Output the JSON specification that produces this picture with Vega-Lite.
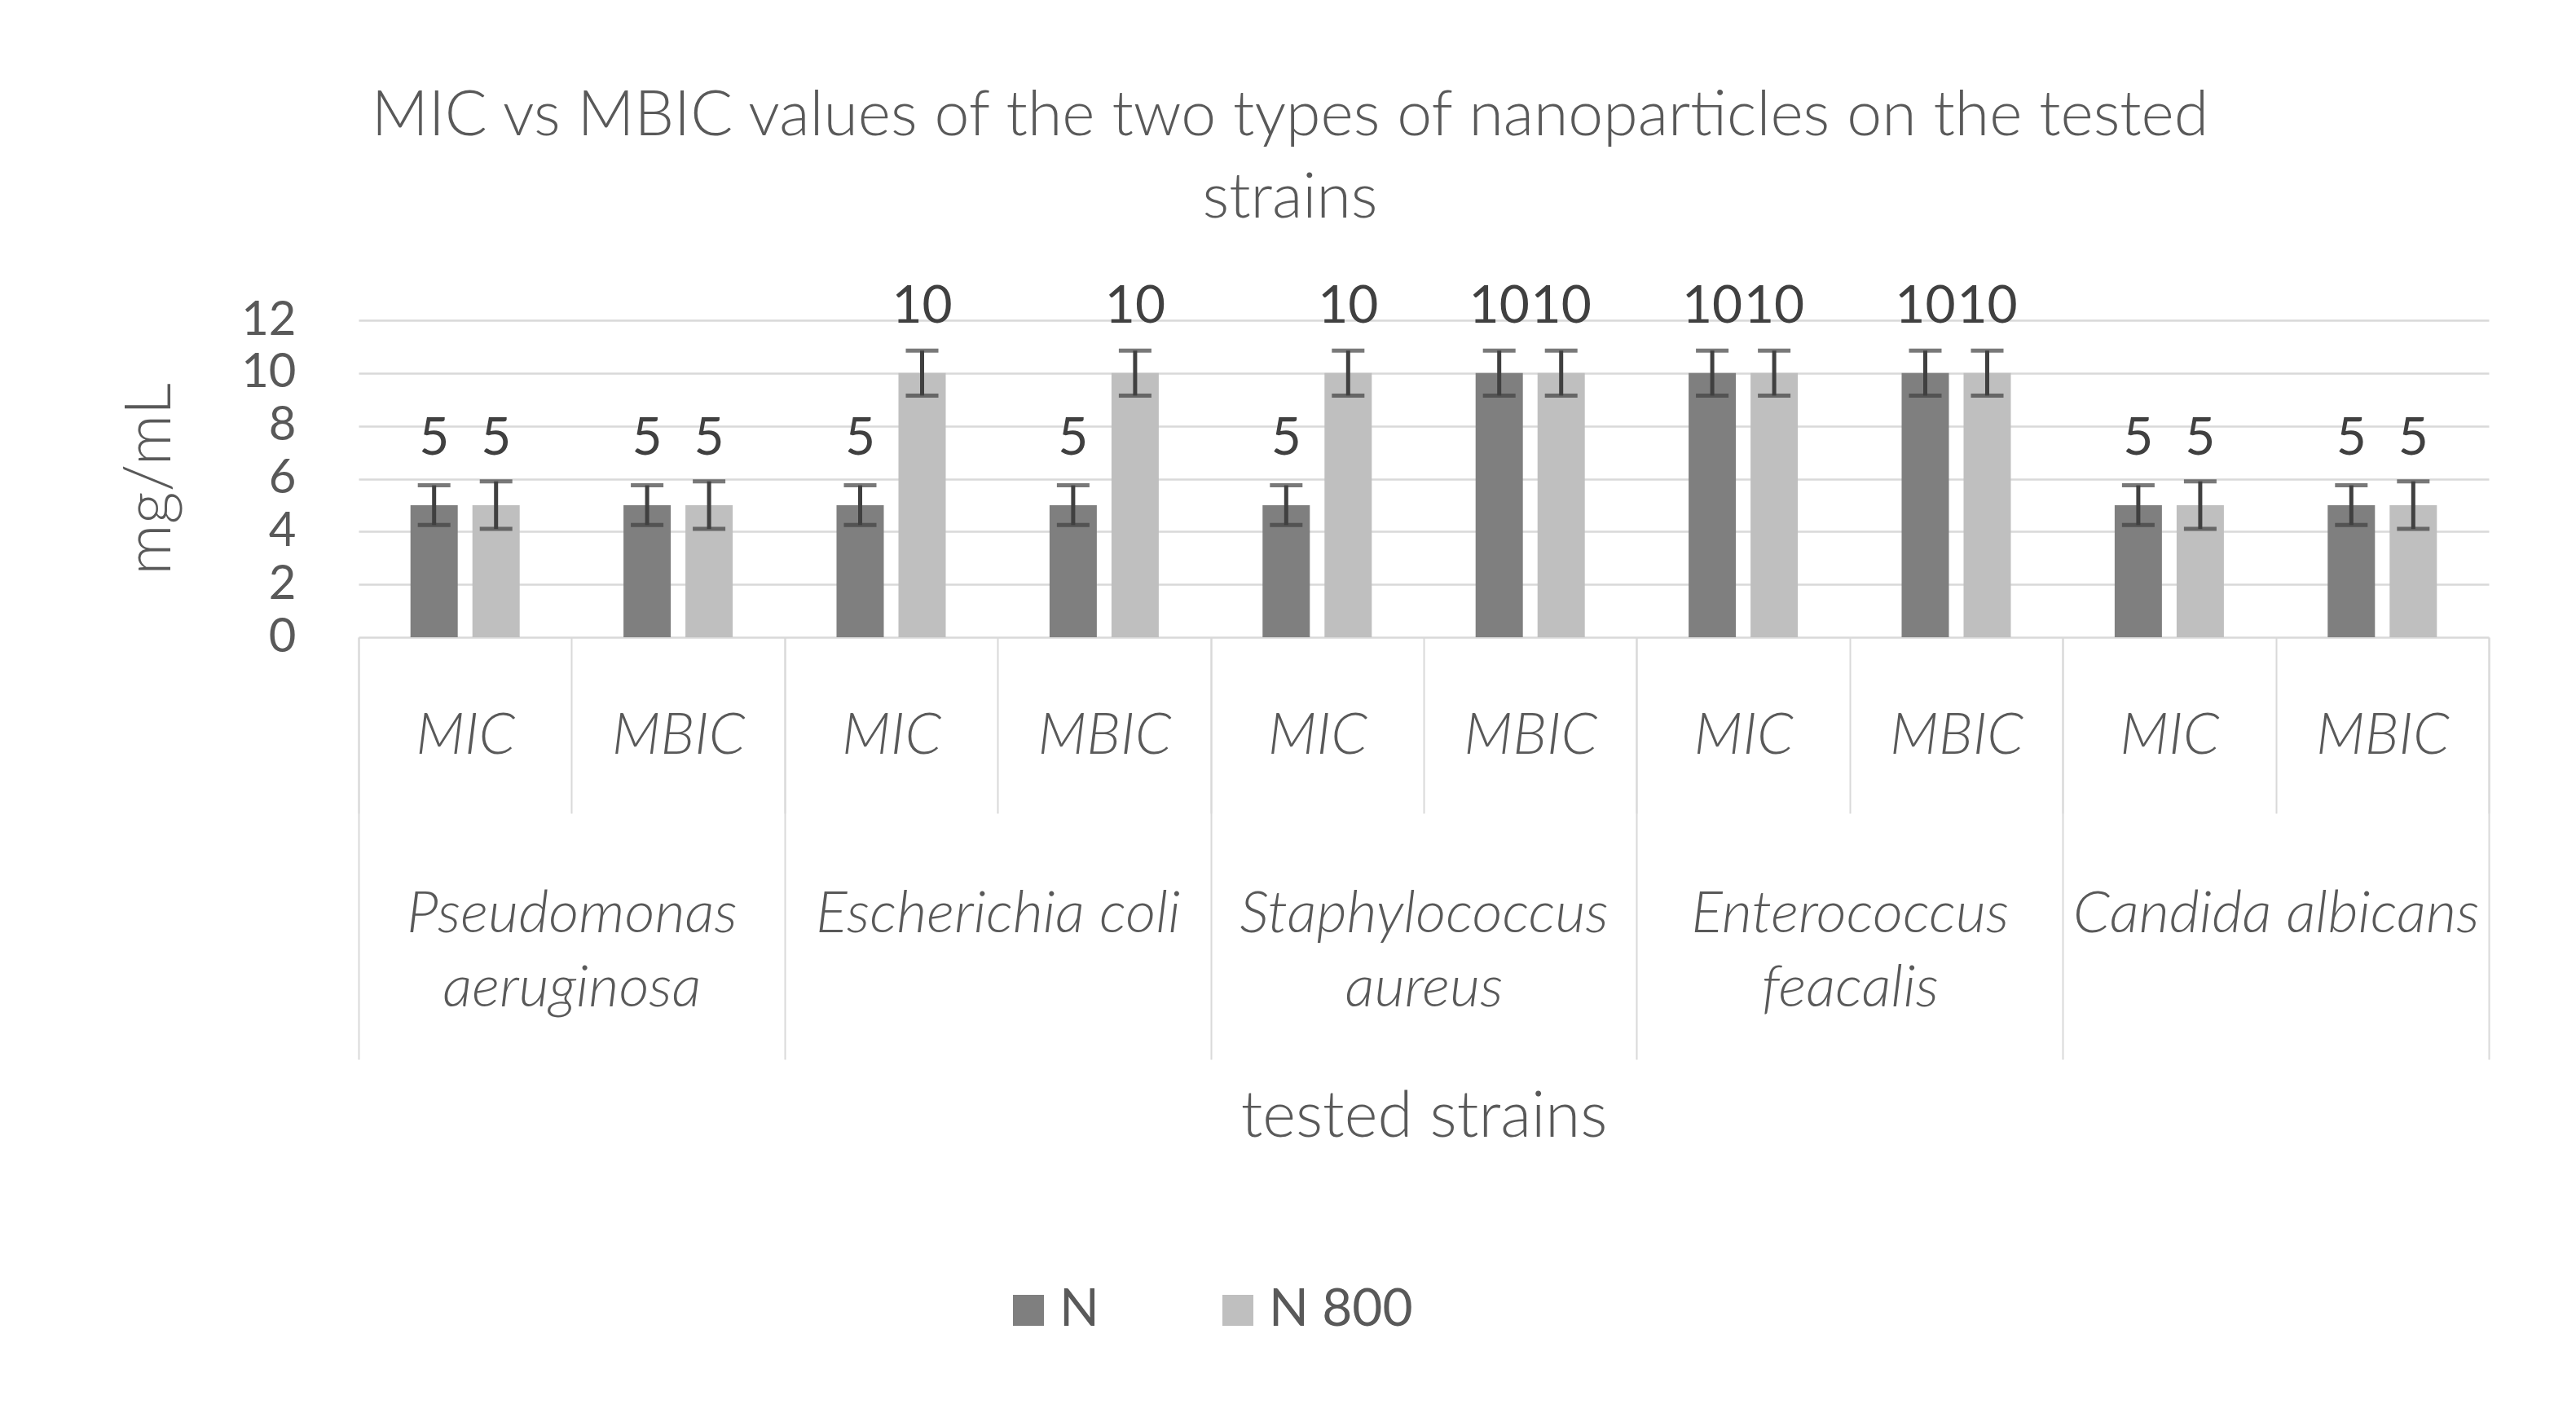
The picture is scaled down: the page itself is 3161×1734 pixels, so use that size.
{
  "$schema": "https://vega.github.io/schema/vega-lite/v6.json",
  "width": 2614,
  "height": 389,
  "autosize": {"type": "none"},
  "padding": {"left": 440, "top": 393, "right": 107, "bottom": 952},
  "background": "white",
  "config": {"font": "Lato", "view": {"stroke": null}},
  "title": {
    "text": ["MIC vs MBIC values of the two types of nanoparticles on the tested", "strains"],
    "fontSize": 77,
    "fontWeight": 300,
    "color": "#595959",
    "anchor": "middle",
    "dx": -164,
    "lineHeight": 101,
    "offset": 62
  },
  "data": {
    "values": [
      {"strain": "Pseudomonas aeruginosa", "cat": "Pseudomonas aeruginosa|MIC", "series": "N", "value": 5, "lo": 4.25, "hi": 5.75},
      {"strain": "Pseudomonas aeruginosa", "cat": "Pseudomonas aeruginosa|MIC", "series": "N 800", "value": 5, "lo": 4.1, "hi": 5.9},
      {"strain": "Pseudomonas aeruginosa", "cat": "Pseudomonas aeruginosa|MBIC", "series": "N", "value": 5, "lo": 4.25, "hi": 5.75},
      {"strain": "Pseudomonas aeruginosa", "cat": "Pseudomonas aeruginosa|MBIC", "series": "N 800", "value": 5, "lo": 4.1, "hi": 5.9},
      {"strain": "Escherichia coli", "cat": "Escherichia coli|MIC", "series": "N", "value": 5, "lo": 4.25, "hi": 5.75},
      {"strain": "Escherichia coli", "cat": "Escherichia coli|MIC", "series": "N 800", "value": 10, "lo": 9.15, "hi": 10.85},
      {"strain": "Escherichia coli", "cat": "Escherichia coli|MBIC", "series": "N", "value": 5, "lo": 4.25, "hi": 5.75},
      {"strain": "Escherichia coli", "cat": "Escherichia coli|MBIC", "series": "N 800", "value": 10, "lo": 9.15, "hi": 10.85},
      {"strain": "Staphylococcus aureus", "cat": "Staphylococcus aureus|MIC", "series": "N", "value": 5, "lo": 4.25, "hi": 5.75},
      {"strain": "Staphylococcus aureus", "cat": "Staphylococcus aureus|MIC", "series": "N 800", "value": 10, "lo": 9.15, "hi": 10.85},
      {"strain": "Staphylococcus aureus", "cat": "Staphylococcus aureus|MBIC", "series": "N", "value": 10, "lo": 9.15, "hi": 10.85},
      {"strain": "Staphylococcus aureus", "cat": "Staphylococcus aureus|MBIC", "series": "N 800", "value": 10, "lo": 9.15, "hi": 10.85},
      {"strain": "Enterococcus feacalis", "cat": "Enterococcus feacalis|MIC", "series": "N", "value": 10, "lo": 9.15, "hi": 10.85},
      {"strain": "Enterococcus feacalis", "cat": "Enterococcus feacalis|MIC", "series": "N 800", "value": 10, "lo": 9.15, "hi": 10.85},
      {"strain": "Enterococcus feacalis", "cat": "Enterococcus feacalis|MBIC", "series": "N", "value": 10, "lo": 9.15, "hi": 10.85},
      {"strain": "Enterococcus feacalis", "cat": "Enterococcus feacalis|MBIC", "series": "N 800", "value": 10, "lo": 9.15, "hi": 10.85},
      {"strain": "Candida albicans", "cat": "Candida albicans|MIC", "series": "N", "value": 5, "lo": 4.25, "hi": 5.75},
      {"strain": "Candida albicans", "cat": "Candida albicans|MIC", "series": "N 800", "value": 5, "lo": 4.1, "hi": 5.9},
      {"strain": "Candida albicans", "cat": "Candida albicans|MBIC", "series": "N", "value": 5, "lo": 4.25, "hi": 5.75},
      {"strain": "Candida albicans", "cat": "Candida albicans|MBIC", "series": "N 800", "value": 5, "lo": 4.1, "hi": 5.9}
    ]
  },
  "layer": [
    {
      "encoding": {
        "x": {
          "field": "cat",
          "type": "nominal",
          "sort": null,
          "scale": {"type": "band", "paddingInner": 0, "paddingOuter": 0},
          "axis": {
            "orient": "bottom",
            "title": null,
            "labelExpr": "split(datum.label, '|')[1]",
            "labelFontSize": 71,
            "labelFontStyle": "italic",
            "labelFontWeight": 300,
            "labelColor": "#595959",
            "labelAngle": 0,
            "labelBaseline": "middle",
            "labelPadding": -95,
            "labelLimit": 0,
            "labelOverlap": false,
            "labelBound": false,
            "tickBand": "extent",
            "tickSize": 216,
            "tickColor": "#d9d9d9",
            "tickWidth": 2,
            "domain": false,
            "grid": false
          }
        },
        "xOffset": {
          "field": "series",
          "type": "nominal",
          "sort": null,
          "scale": {"paddingInner": 0.237, "paddingOuter": 0.838}
        }
      },
      "layer": [
        {
          "mark": {"type": "bar"},
          "encoding": {
            "y": {
              "field": "value",
              "type": "quantitative",
              "scale": {"domain": [0, 12], "nice": false},
              "axis": {
                "title": "mg/mL",
                "titleFontSize": 78,
                "titleFontWeight": 300,
                "titleColor": "#595959",
                "titleX": -255,
                "titleY": 194.5,
                "titleBaseline": "middle",
                "values": [0, 2, 4, 6, 8, 10, 12],
                "labelFontSize": 58,
                "labelColor": "#595959",
                "labelPadding": 77,
                "ticks": false,
                "domain": false,
                "grid": true,
                "gridColor": "#d9d9d9",
                "gridWidth": 2.5
              }
            },
            "color": {
              "field": "series",
              "type": "nominal",
              "scale": {"domain": ["N", "N 800"], "range": ["#7f7f7f", "#bfbfbf"]},
              "legend": {
                "orient": "none",
                "legendX": 790,
                "legendY": 1183,
                "direction": "horizontal",
                "title": null,
                "symbolType": "square",
                "symbolSize": 1444,
                "symbolStrokeWidth": 0,
                "symbolOpacity": 1,
                "labelFontSize": 64,
                "labelColor": "#595959",
                "labelOffset": 6,
                "labelLimit": 0,
                "columnPadding": 138,
                "padding": 0
              }
            }
          }
        },
        {
          "mark": {"type": "rule", "color": "#404040", "strokeWidth": 5},
          "encoding": {
            "y": {"field": "lo", "type": "quantitative"},
            "y2": {"field": "hi"}
          }
        },
        {
          "mark": {"type": "tick", "color": "#404040", "size": 40, "thickness": 5, "orient": "horizontal"},
          "encoding": {
            "y": {"field": "lo", "type": "quantitative"}
          }
        },
        {
          "mark": {"type": "tick", "color": "#404040", "size": 40, "thickness": 5, "orient": "horizontal"},
          "encoding": {
            "y": {"field": "hi", "type": "quantitative"}
          }
        },
        {
          "mark": {"type": "text", "dy": -81, "baseline": "middle", "fontSize": 64, "color": "#404040"},
          "encoding": {
            "y": {"field": "value", "type": "quantitative"},
            "text": {"field": "value", "type": "quantitative", "format": "d"}
          }
        }
      ]
    },
    {
      "mark": {"type": "point", "opacity": 0},
      "encoding": {
        "x": {
          "field": "strain",
          "type": "nominal",
          "sort": null,
          "scale": {"type": "band", "paddingInner": 0, "paddingOuter": 0},
          "axis": {
            "orient": "bottom",
            "title": "tested strains",
            "titleFontSize": 78,
            "titleFontWeight": 300,
            "titleColor": "#595959",
            "titleY": 589,
            "titleBaseline": "middle",
            "labelExpr": "datum.label == 'Escherichia coli' || datum.label == 'Candida albicans' ? datum.label : split(datum.label, ' ')",
            "labelFontSize": 72,
            "labelFontStyle": "italic",
            "labelFontWeight": 300,
            "labelColor": "#595959",
            "labelAngle": 0,
            "labelBaseline": "top",
            "labelLineHeight": 91,
            "labelPadding": -214,
            "labelLimit": 0,
            "labelOverlap": false,
            "labelBound": false,
            "tickBand": "extent",
            "tickSize": 518,
            "tickColor": "#d9d9d9",
            "tickWidth": 2,
            "domain": false,
            "grid": false
          }
        }
      }
    }
  ],
  "resolve": {"scale": {"x": "independent"}}
}
